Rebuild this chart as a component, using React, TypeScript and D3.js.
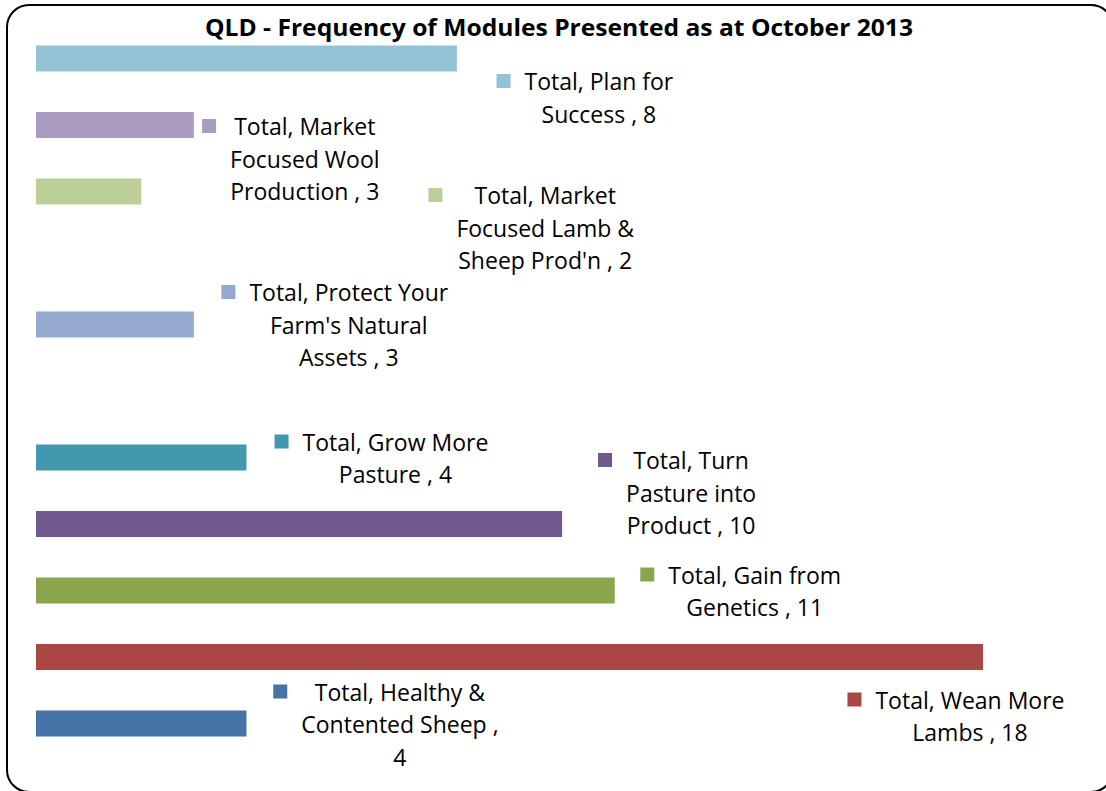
import { useEffect, useRef } from 'react';
import * as d3 from 'd3';

// rows from top to bottom; null = empty row in the original sheet
const categories = [
    'Plan for Success',
    'Market Focused Wool Production',
    "Market Focused Lamb & Sheep Prod'n",
    '',
    "Protect Your Farm's Natural Assets",
    '',
    'Grow More Pasture',
    'Turn Pasture into Product',
    'Gain from Genetics',
    'Wean More Lambs',
    'Healthy & Contented Sheep',
];
const values = [8, 3, 2, null, 3, null, 4, 10, 11, 18, 4];
const colors = ['#93C3D4', '#AA9BC1', '#BBD098', null, '#95A9D1', null, '#4198AF', '#71588F', '#89A54E', '#AA4643', '#4572A7'];

// data label text, broken into lines as in the original
const labelLines = [
    ['Total, Plan for', 'Success , 8'],
    ['Total, Market', 'Focused Wool', 'Production , 3'],
    ['Total, Market', 'Focused Lamb &', "Sheep Prod'n , 2"],
    null,
    ['Total, Protect Your', "Farm's Natural", 'Assets , 3'],
    null,
    ['Total, Grow More', 'Pasture , 4'],
    ['Total, Turn', 'Pasture into', 'Product , 10'],
    ['Total, Gain from', 'Genetics , 11'],
    ['Total, Wean More', 'Lambs , 18'],
    ['Total, Healthy &', 'Contented Sheep ,', '4'],
];
// label offsets (centre x, first baseline) relative to bar end / bar centre
const labelOffsets = [
    [142, 31.5], [111, 10], [404, 12.5], null, [155, -23.5], null,
    [149, -7], [129, -55], [140, -7], [-13, 51.5], [153.5, -23],
];

const title = 'QLD - Frequency of Modules Presented as at October 2013';

function App() {
    const ref = useRef<SVGSVGElement>(null);

    useEffect(() => {
        const width = 1106;
        const height = 791;
        const svg = d3.select(ref.current);
        svg.selectAll('*').remove();
        svg.attr('width', width).attr('height', height);

        svg.append('rect')
            .attr('x', 7).attr('y', 5)
            .attr('width', 1106).attr('height', 787)
            .attr('rx', 22).attr('ry', 22)
            .attr('fill', '#fff')
            .attr('stroke', '#000')
            .attr('stroke-width', 2);

        const font = "'Open Sans', sans-serif";

        svg.append('text')
            .attr('x', 559).attr('y', 36)
            .attr('text-anchor', 'middle')
            .attr('font-family', font)
            .attr('font-weight', 'bold')
            .attr('font-size', 24)
            .attr('textLength', 708)
            .attr('lengthAdjust', 'spacingAndGlyphs')
            .text(title);

        const xScale = d3.scaleLinear().domain([0, 18]).range([36, 983]);
        const yScale = d3.scalePoint<number>()
            .domain(d3.range(categories.length))
            .range([58.5, 723.5]);
        const barH = 26;

        const rows = categories.map((name, i) => ({ i, name, value: values[i], color: colors[i], lines: labelLines[i], off: labelOffsets[i] }))
            .filter(d => d.value !== null);

        svg.append('g')
            .selectAll('rect')
            .data(rows)
            .join('rect')
            .attr('x', xScale(0))
            .attr('y', d => (yScale(d.i) as number) - barH / 2)
            .attr('width', d => xScale(d.value as number) - xScale(0))
            .attr('height', barH)
            .attr('fill', d => d.color as string);

        const labels = svg.append('g');
        rows.forEach(d => {
            const cx = xScale(d.value as number) + (d.off as number[])[0];
            const by = (yScale(d.i) as number) + (d.off as number[])[1];
            const g = labels.append('g');
            const texts = g.selectAll('text')
                .data(d.lines as string[])
                .join('text')
                .attr('x', cx)
                .attr('y', (_, k) => by + k * 32.5)
                .attr('text-anchor', 'middle')
                .attr('font-family', font)
                .attr('font-size', 23)
                .attr('fill', '#000')
                .text(t => t);
            let maxW = 0;
            texts.each(function () {
                maxW = Math.max(maxW, (this as SVGTextElement).getComputedTextLength());
            });
            g.append('rect')
                .attr('x', cx - maxW / 2 - 28)
                .attr('y', by - 16)
                .attr('width', 14)
                .attr('height', 14)
                .attr('fill', d.color as string);
        });
    }, []);

    return (
        <div style={{ position: 'absolute', left: 0, top: 0 }}>
            <svg ref={ref}></svg>
        </div>
    );
}

export default App;
